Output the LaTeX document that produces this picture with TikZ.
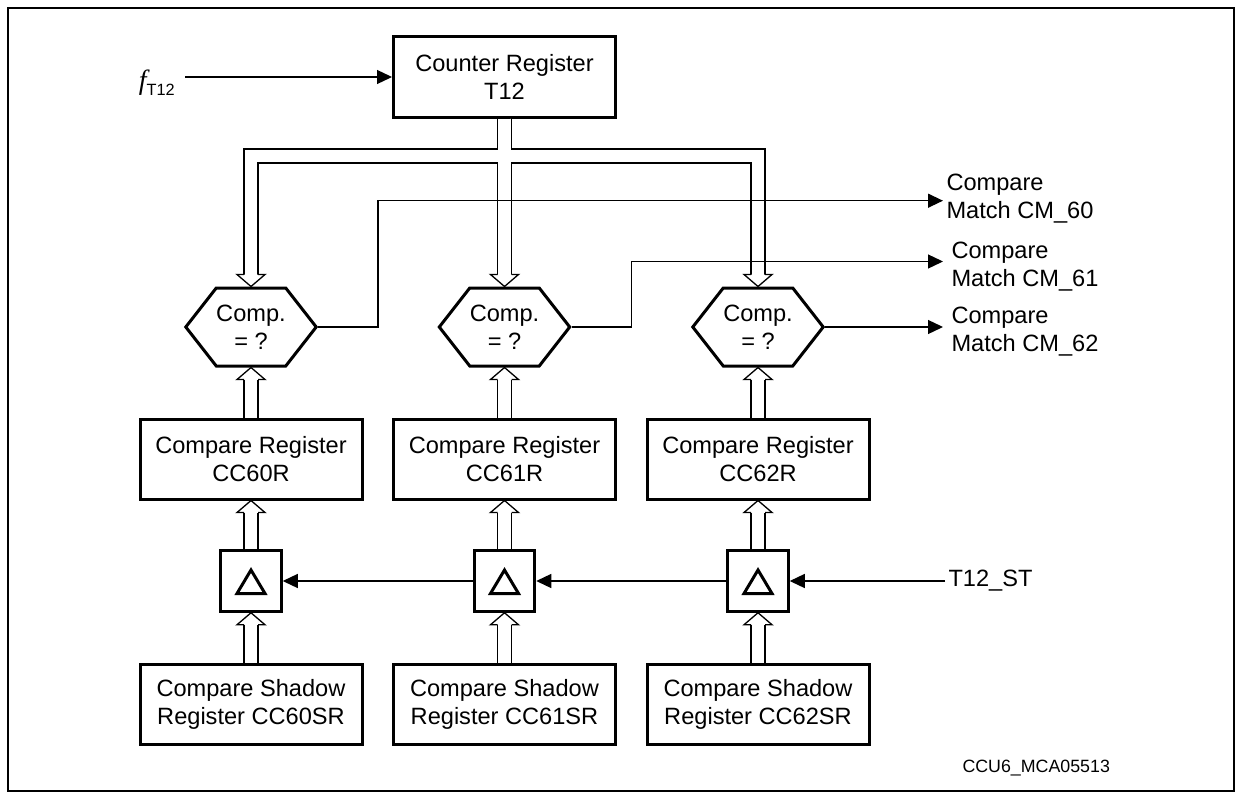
\documentclass[tikz,border=0pt]{standalone}
\usepackage{fontspec}
\setmainfont{Liberation Sans}
\newfontfamily\fserif{Liberation Serif}
\usetikzlibrary{arrows.meta}
\usetikzlibrary{calc}
\usetikzlibrary{shapes.symbols}

% hollow head of a bus: #1 = tip, #2 = offset of its base
\newcommand{\bustip}[2]{%
  \filldraw[fill=white,line width=1.3pt] ($(#1)+(-7,#2)$) -- ++(-7,0) -- (#1) -- ($(#1)+(14,#2)$) -- ++(-7,0);
}

\begin{document}
\begin{tikzpicture}[x=1pt,y=-1pt,
  every node/.style={font=\fontsize{23.6pt}{28pt}\selectfont},
  regbox/.style={draw,line width=3pt,minimum width=222pt,minimum height=80pt,align=center,inner sep=0pt},
  cmpbox/.style={draw,line width=3pt,shape=signal,signal to=east and west,signal pointer angle=104,
    minimum width=129pt,minimum height=78pt,align=center,inner sep=0pt},
  dltbox/.style={draw,line width=3pt,minimum size=60.5pt,
    path picture={\draw[line width=3pt] ($(path picture bounding box.center)+(0,-11)$) -- ++(14,23.5) -- ++(-28,0) -- cycle;}},
  sig/.style={line width=1.3pt,-{Triangle[length=15pt,width=14pt]}},
  buso/.style={line width=15.4pt,black},
  busi/.style={line width=12.6pt,white}]
\useasboundingbox (0,0) rectangle (1242,800);
\draw[line width=1.8pt] (8,8) rectangle (1234,791);

\node[regbox] (cr) at (504.5,77) {Counter Register\\T12};
\foreach \n/\x in {0/251,1/504.5,2/758} {
  \node[cmpbox] (cmp\n) at (\x,327) {Comp.\\= ?};
  \node[regbox] (reg\n) at (\x,459) {Compare Register\\CC6\n R};
  \node[dltbox] (dlt\n) at (\x,581) {};
  \node[regbox] (shd\n) at (\x,704) {Compare Shadow\\Register CC6\n SR};
}

% buses
\foreach \s in {buso,busi} {
  \draw[\s] (cr.south) -- ($(cmp1.north)+(0,-12)$);
  \draw[\s] (cr.south) -- ++(0,37.5) -| ($(cmp0.north)+(0,-12)$);
  \draw[\s] (cr.south) -- ++(0,37.5) -| ($(cmp2.north)+(0,-12)$);
  \foreach \n in {0,1,2} {
    \draw[\s] (reg\n.north) -- ($(cmp\n.south)+(0,12)$);
    \draw[\s] (dlt\n.north) -- ($(reg\n.south)+(0,12)$);
    \draw[\s] (shd\n.north) -- ($(dlt\n.south)+(0,12)$);
  }
}
\foreach \n in {0,1,2} {
  \bustip{cmp\n.north}{-12}
  \bustip{cmp\n.south}{12}
  \bustip{reg\n.south}{12}
  \bustip{dlt\n.south}{12}
}

% clock input
\node[anchor=base east,inner sep=0pt] (ft) at (175,89)
  {{\fserif\itshape\fontsize{27.8pt}{28pt}\selectfont f}\raisebox{-6pt}{\fontsize{16.3pt}{18pt}\selectfont T12}};
\coordinate (fin) at (185,77);
\draw[sig] (fin) -- (cr.west);

% compare match outputs
\coordinate (m0) at (943,200.7);
\coordinate (m1) at (943,261.5);
\coordinate (m2) at (943,327);
\node[anchor=west,align=left,yshift=2pt] (cm0) at (m0) {Compare\\Match CM\_60};
\node[anchor=west,align=left,xshift=5pt,yshift=-5pt] (cm1) at (m1) {Compare\\Match CM\_61};
\node[anchor=west,align=left,xshift=5pt,yshift=-5pt] (cm2) at (m2) {Compare\\Match CM\_62};
\draw[sig] (cmp0.east) -- ++(60,0) |- (m0);
\draw[sig] (cmp1.east) -- ++(60,0) |- (m1);
\draw[sig] (cmp2.east) -- (m2);

% shadow transfer
\node[anchor=west] (st) at (945,581) {T12\_ST};
\draw[sig] (st.west) -- (dlt2.east);
\draw[sig] (dlt2.west) -- (dlt1.east);
\draw[sig] (dlt1.west) -- (dlt0.east);

\node[anchor=west,font=\fontsize{17.8pt}{20pt}\selectfont] (id) at (959,768) {CCU6\_MCA05513};
\end{tikzpicture}
\end{document}
